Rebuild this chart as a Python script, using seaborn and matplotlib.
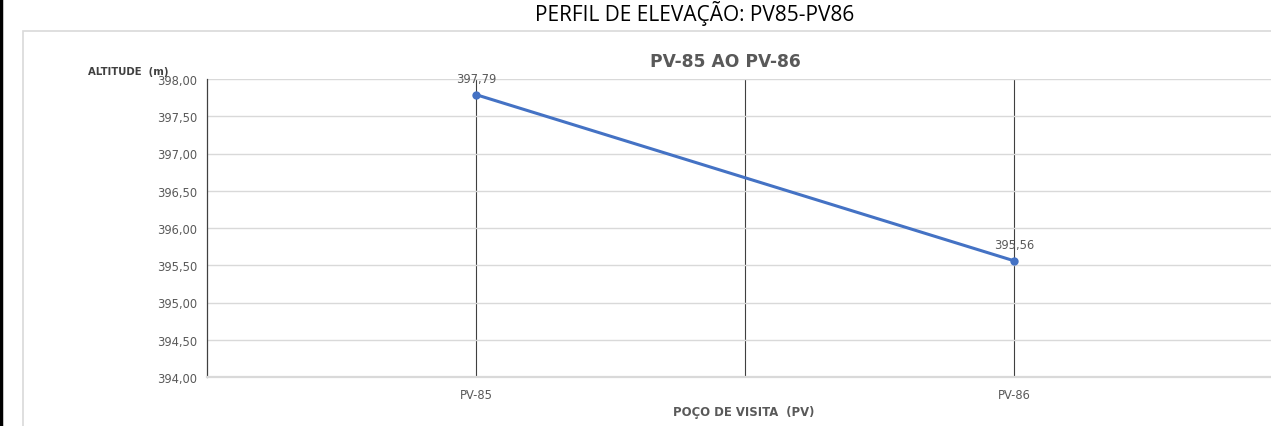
import matplotlib
matplotlib.use("Agg")
import matplotlib.pyplot as plt
import seaborn as sns
import pandas as pd
from matplotlib.ticker import FuncFormatter, FixedLocator
from matplotlib.patches import Rectangle
from matplotlib.lines import Line2D

# Data
pocos = ["PV-85", "PV-86"]
altitudes = [397.79, 395.56]
y_ticks = [394.0, 394.5, 395.0, 395.5, 396.0, 396.5, 397.0, 397.5, 398.0]

df = pd.DataFrame({"PV": pocos, "Altitude": altitudes})

sns.set_style("white")
plt.rcParams["font.family"] = ["DejaVu Sans"]

fig = plt.figure(figsize=(12.71, 4.27), dpi=100)
W, H = 1271, 427

# chart frame (cropped on right/bottom) and the black edge on the left
fig.patches.append(Rectangle((23 / W, -0.1), 1.2, 1 - 32 / H + 0.1,
                             transform=fig.transFigure, fill=False,
                             edgecolor="#D9D9D9", linewidth=1.2))
fig.lines.append(Line2D([1 / W, 1 / W], [0, 1], transform=fig.transFigure,
                        color="black", linewidth=2.5))

ax = fig.add_axes([207 / W, 1 - 378 / H, 1076 / W, 298 / H])

sns.lineplot(data=df, x="PV", y="Altitude", ax=ax, color="#4472C4",
             linewidth=2.2, marker="o", markersize=6, markeredgewidth=0,
             zorder=5)

ax.set_xlim(-0.5, 1.5)
ax.set_ylim(394, 398)
ax.set_yticks(y_ticks)
ax.yaxis.set_major_formatter(FuncFormatter(lambda v, p: f"{v:.2f}".replace(".", ",")))
ax.xaxis.set_minor_locator(FixedLocator([0.5]))

ax.grid(axis="y", color="#D9D9D9", linewidth=1.0)
ax.grid(axis="x", which="both", color="#404040", linewidth=0.8)
ax.set_axisbelow(True)

for s in ["top", "right"]:
    ax.spines[s].set_visible(False)
ax.spines["left"].set_color("#404040")
ax.spines["left"].set_linewidth(0.9)
ax.spines["bottom"].set_color("#D9D9D9")
ax.spines["bottom"].set_linewidth(1.6)

ax.tick_params(axis="both", which="both", length=0, labelsize=8.3, labelcolor="#595959")
ax.tick_params(axis="y", pad=7)
ax.tick_params(axis="x", pad=8)

ax.set_ylabel("")
ax.set_xlabel("")

for i, v in enumerate(altitudes):
    ax.annotate(f"{v:.2f}".replace(".", ","), (i, v), xytext=(0, 7),
                textcoords="offset points", ha="center", va="bottom",
                fontsize=8.3, color="#595959")

fig.text(744 / W, 1 - 413 / H, "POÇO DE VISITA  (PV)", ha="center", va="center",
         fontsize=8.4, fontweight="bold", color="#595959")
fig.text(725 / W, 1 - 62 / H, "PV-85 AO PV-86", ha="center", va="center",
         fontsize=12.3, fontweight="bold", color="#595959")
fig.text(88 / W, 1 - 72 / H, "ALTITUDE  (m)", ha="left", va="center",
         fontsize=7.3, fontweight="bold", color="#404040")
fig.text(695 / W, 1 - 13 / H, "PERFIL DE ELEVAÇÃO: PV85-PV86", ha="center",
         va="center", fontsize=15, color="black",
         family=["Open Sans", "DejaVu Sans"])

fig.savefig("out.png", dpi=100)
plt.close(fig)
